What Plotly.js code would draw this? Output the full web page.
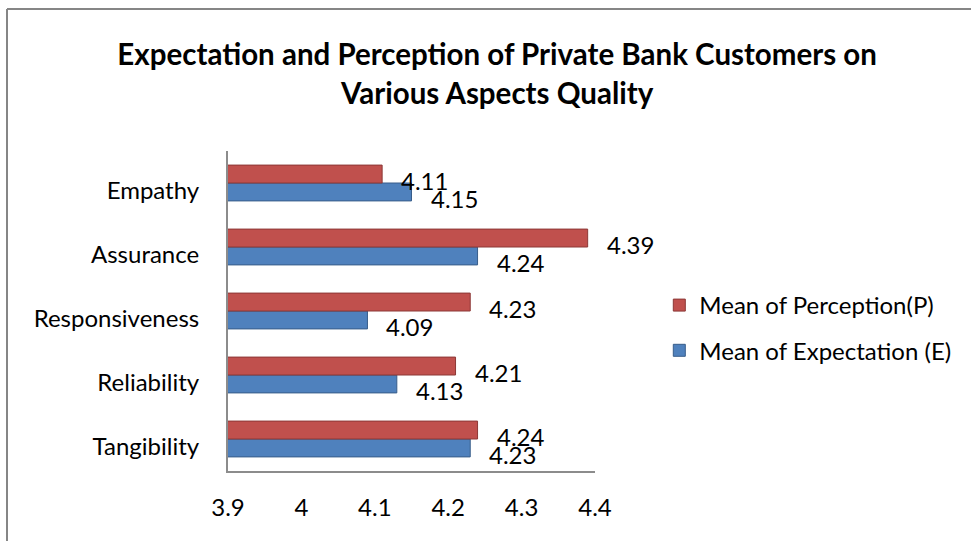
<!DOCTYPE html>
<html>
<head>
<meta charset="utf-8">
<script src="https://cdn.plot.ly/plotly-3.0.1.min.js"></script>
<style>html,body{margin:0;padding:0;background:#fff;}#chart{width:971px;height:541px;}</style>
</head>
<body>
<div id="chart"></div>
<script>
var categories = ['Tangibility', 'Reliability', 'Responsiveness', 'Assurance', 'Empathy'];
var expectation = [4.23, 4.13, 4.09, 4.24, 4.15];
var perception = [4.24, 4.21, 4.23, 4.39, 4.11];
var seriesNames = ['Mean of Expectation (E)', 'Mean of Perception(P)'];
var xTicks = [3.9, 4, 4.1, 4.2, 4.3, 4.4];
var xTickText = ['3.9', '4', '4.1', '4.2', '4.3', '4.4'];

var FONT = 'Lato, "Liberation Sans", sans-serif';
var blue = '#4F81BD', red = '#C0504D';

var traces = [
  {type: 'bar', orientation: 'h', name: seriesNames[0], x: expectation, y: categories,
   marker: {color: blue, line: {color: '#385D8A', width: 1}}, legendgroup: 'e', legendrank: 2, hoverinfo: 'x+y'},
  {type: 'bar', orientation: 'h', name: seriesNames[1], x: perception, y: categories,
   marker: {color: red, line: {color: '#8C3836', width: 1}}, legendgroup: 'p', legendrank: 1, hoverinfo: 'x+y'}
];

var bargap = 0.44;
var half = (1 - bargap) / 4;
var annotations = [];
categories.forEach(function (c, i) {
  annotations.push({x: expectation[i], y: i - half, xref: 'x', yref: 'y', text: expectation[i].toFixed(2),
    showarrow: false, xanchor: 'left', yanchor: 'middle', xshift: 17, yshift: -7,
    font: {family: FONT, size: 24, color: '#000'}});
  annotations.push({x: perception[i], y: i + half, xref: 'x', yref: 'y', text: perception[i].toFixed(2),
    showarrow: false, xanchor: 'left', yanchor: 'middle', xshift: 17, yshift: -6,
    font: {family: FONT, size: 24, color: '#000'}});
});

var layout = {
  width: 971, height: 541,
  margin: {l: 228, r: 376, t: 151, b: 70},
  paper_bgcolor: '#fff', plot_bgcolor: '#fff',
  font: {family: FONT, size: 24, color: '#000'},
  title: {text: '<b>Expectation and Perception of Private Bank Customers on<br>Various Aspects Quality</b>',
    font: {family: FONT, size: 29.5, color: '#000'}, x: 0.512, xanchor: 'center', xref: 'container',
    y: 0.879, yanchor: 'top', yref: 'container'},
  barmode: 'group', bargap: bargap, bargroupgap: 0,
  xaxis: {range: [3.9, 4.4], tickvals: xTicks, ticktext: xTickText, showgrid: false, zeroline: false,
    showline: true, linecolor: '#8C8C8C', linewidth: 2, ticks: '', ticklabelstandoff: 14,
    tickfont: {family: FONT, size: 24, color: '#000'}},
  yaxis: {type: 'category', categoryorder: 'array', categoryarray: categories, range: [-0.5, 4.5],
    showgrid: false, zeroline: false, showline: true, linecolor: '#8C8C8C', linewidth: 2, ticks: '',
    ticklabelstandoff: 22, ticklabelshift: 8, tickfont: {family: FONT, size: 24, color: '#000'}},
  legend: {x: 0.679, xref: 'container', y: 1 - 283 / 541, yref: 'container', yanchor: 'top', xanchor: 'left',
    traceorder: 'grouped', tracegroupgap: 11, font: {family: FONT, size: 24, color: '#000'},
    bgcolor: 'rgba(0,0,0,0)', itemwidth: 30},
  annotations: annotations,
  shapes: [
    {type: 'line', xref: 'paper', yref: 'paper', x0: (7 - 228) / 367, x1: (971 - 228) / 367,
      y0: (471 - 9) / 320, y1: (471 - 9) / 320, line: {color: '#868686', width: 2}},
    {type: 'line', xref: 'paper', yref: 'paper', x0: (7 - 228) / 367, x1: (7 - 228) / 367,
      y0: (471 - 9) / 320, y1: (471 - 545) / 320, line: {color: '#868686', width: 2}}
  ],
  showlegend: true
};

Plotly.newPlot('chart', traces, layout, {displayModeBar: false, staticPlot: true});
</script>
</body>
</html>
